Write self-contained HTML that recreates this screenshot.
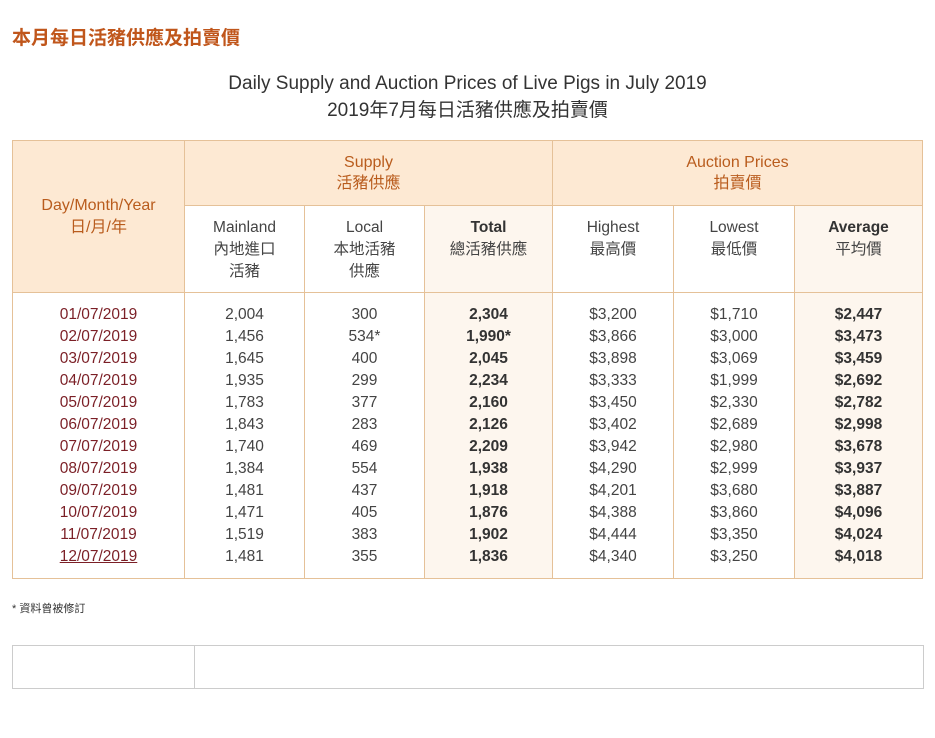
<!DOCTYPE html>
<html><head><meta charset="utf-8"><style>
body{margin:0;background:#fff;width:935px;height:738px;overflow:hidden;font-family:"Liberation Sans","Noto Sans CJK TC",sans-serif;}
.h1{position:absolute;left:12px;top:23px;font-size:19px;font-weight:bold;color:#c0561b;}
.t{position:absolute;left:0;width:935px;text-align:center;font-size:19px;color:#333;line-height:26px;}
table{position:absolute;left:12px;top:140px;border-collapse:collapse;table-layout:fixed;}
td{border:1px solid #e5c198;text-align:center;padding:0;font-size:15.5px;color:#444;}
.hd{background:#fde9d3;color:#b95c1d;}
.cr{background:#fdf6ee;}
.d td{vertical-align:top;padding-top:11px;line-height:22px;height:274px;}
.dt{color:#7b1f26;}
b{font-weight:bold;color:#333}
.sub td{vertical-align:top;padding-top:11px;line-height:22px;}
.note{position:absolute;left:12px;top:600px;font-size:11px;color:#333;}
.bt{position:absolute;left:12px;top:645px;width:910px;height:42px;border:1px solid #ccc;}
.bt div{position:absolute;left:181px;top:0;height:42px;border-left:1px solid #ccc;}
</style></head><body>
<div class="h1">本月每日活豬供應及拍賣價</div>
<div class="t" style="top:71px">Daily Supply and Auction Prices of Live Pigs in July 2019</div>
<div class="t" style="top:98px">2019年7月每日活豬供應及拍賣價</div>
<table>
<colgroup><col style="width:172px"><col style="width:120px"><col style="width:120px"><col style="width:128px"><col style="width:121px"><col style="width:121px"><col style="width:128px"></colgroup>
<tr style="height:65px"><td class="hd" rowspan="2" style="line-height:22px;font-size:16px">Day/Month/Year<br>日/月/年</td><td class="hd" colspan="3" style="line-height:21px;font-size:16px">Supply<br>活豬供應</td><td class="hd" colspan="3" style="line-height:21px;font-size:16px">Auction Prices<br>拍賣價</td></tr>
<tr class="sub" style="height:87px"><td>Mainland<br>內地進口<br>活豬</td><td>Local<br>本地活豬<br>供應</td><td class="cr"><b>Total</b><br>總活豬供應</td><td>Highest<br>最高價</td><td>Lowest<br>最低價</td><td class="cr"><b>Average</b><br>平均價</td></tr>
<tr class="d"><td class="dt">01/07/2019<br>02/07/2019<br>03/07/2019<br>04/07/2019<br>05/07/2019<br>06/07/2019<br>07/07/2019<br>08/07/2019<br>09/07/2019<br>10/07/2019<br>11/07/2019<br><u>12/07/2019</u></td>
<td>2,004<br>1,456<br>1,645<br>1,935<br>1,783<br>1,843<br>1,740<br>1,384<br>1,481<br>1,471<br>1,519<br>1,481</td>
<td>300<br>534*<br>400<br>299<br>377<br>283<br>469<br>554<br>437<br>405<br>383<br>355</td>
<td class="cr"><b>2,304<br>1,990*<br>2,045<br>2,234<br>2,160<br>2,126<br>2,209<br>1,938<br>1,918<br>1,876<br>1,902<br>1,836</b></td>
<td>$3,200<br>$3,866<br>$3,898<br>$3,333<br>$3,450<br>$3,402<br>$3,942<br>$4,290<br>$4,201<br>$4,388<br>$4,444<br>$4,340</td>
<td>$1,710<br>$3,000<br>$3,069<br>$1,999<br>$2,330<br>$2,689<br>$2,980<br>$2,999<br>$3,680<br>$3,860<br>$3,350<br>$3,250</td>
<td class="cr"><b>$2,447<br>$3,473<br>$3,459<br>$2,692<br>$2,782<br>$2,998<br>$3,678<br>$3,937<br>$3,887<br>$4,096<br>$4,024<br>$4,018</b></td></tr>
</table>
<div class="note">* 資料曾被修訂</div>
<div class="bt"><div></div></div>
</body></html>
